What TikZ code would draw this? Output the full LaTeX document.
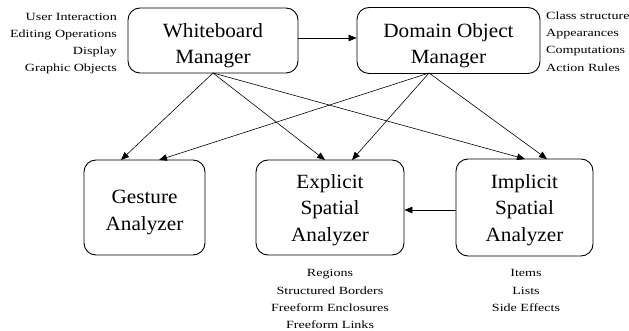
\documentclass[tikz,border=0pt]{standalone}
\usepackage{fontspec}
\setmainfont{Liberation Serif}
\newfontfamily\boxfont[FakeStretch=1.05]{Liberation Serif}
\newfontfamily\lblfont[FakeStretch=1.28]{Liberation Serif}
\usetikzlibrary{arrows.meta}
\newcommand\tstrut{\rule{0pt}{24.5pt}}
\begin{document}
\begin{tikzpicture}[x=1pt,y=-1pt,
  box/.style={draw,line width=0.9pt,rounded corners=12pt,inner sep=0pt,align=center,
    font=\boxfont\fontsize{20.2}{26.5}\selectfont},
  lbl/.style={inner sep=0pt,font=\lblfont\fontsize{11}{17.2}\selectfont},
  arr/.style={-{Triangle[length=8pt,width=6.5pt]},line width=0.6pt}]
\useasboundingbox (0,0) rectangle (629,331);
\node[box,minimum width=170pt,minimum height=65pt] (wb) at (213,40.5) {\tstrut Whiteboard\\Manager};
\node[box,minimum width=183pt,minimum height=66pt] (do) at (448.5,40.5) {\tstrut Domain Object\\Manager};
\node[box,minimum width=121pt,minimum height=95pt] (ga) at (144.5,207.5) {\rule{0pt}{23.5pt}Gesture\\Analyzer};
\node[box,minimum width=148pt,minimum height=95pt] (ea) at (330,207.5) {\rule{0pt}{19pt}Explicit\\Spatial\\Analyzer};
\node[box,minimum width=137pt,minimum height=97pt] (ia) at (524.5,207.5) {\rule{0pt}{19pt}Implicit\\Spatial\\Analyzer};
\node[lbl,align=right,anchor=east] (wbl) at (117,43.5) {User Interaction\\Editing Operations\\Display\\Graphic Objects};
\node[lbl,align=left,anchor=west] (dol) at (546,41.5) {Class structure\\Appearances\\Computations\\Action Rules};
\node[lbl,align=center,anchor=north] (eal) at (330,269.5) {Regions\\Structured Borders\\Freeform Enclosures\\Freeform Links};
\node[lbl,align=center,anchor=north] (ial) at (526,269.5) {Items\\Lists\\Side Effects};
\coordinate (wbs) at (213,73);
\coordinate (dos) at (429,73);
\draw[arr] (wb.east |- 0,38) -- (do.west |- 0,38);
\draw[arr] (wbs) -- (121,160);
\draw[arr] (wbs) -- (325,160);
\draw[arr] (wbs) -- (525,159);
\draw[arr] (dos) -- (159,160);
\draw[arr] (dos) -- (352,160);
\draw[arr] (dos) -- (547,159);
\draw[arr] (ia.west |- 0,210) -- (ea.east |- 0,210);
\end{tikzpicture}
\end{document}
